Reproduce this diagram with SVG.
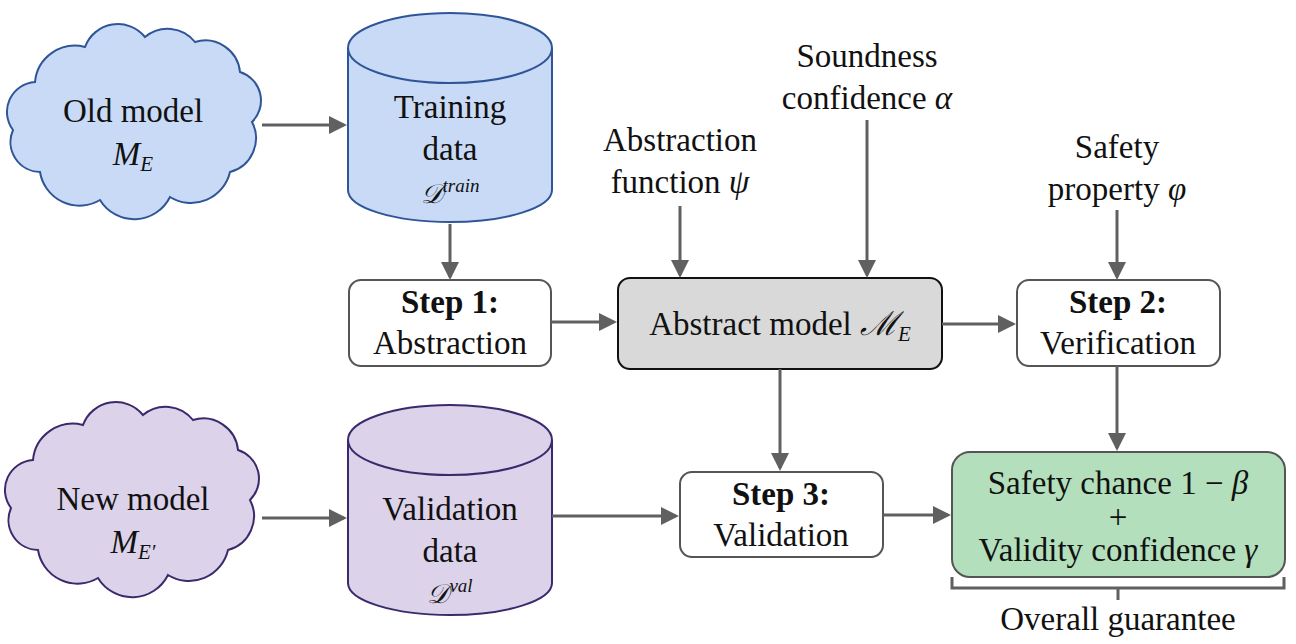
<svg xmlns="http://www.w3.org/2000/svg" width="1296" height="644" viewBox="0 0 1296 644">
<style>
text{font-family:"Liberation Serif","DejaVu Serif",serif;font-size:33px;fill:#111;text-anchor:middle}
.m{font-style:italic}
.b{font-weight:bold}
.d{font-size:27px}
.box{fill:#fff;stroke:#555;stroke-width:2}
.c line,.c path{stroke:#606060;stroke-width:3;fill:none}
.blue{fill:#c9daf6;stroke:#2f5597;stroke-width:2}
.purp{fill:#dcd3ea;stroke:#3b2a6b;stroke-width:2}
</style>
<defs>
<marker id="a" markerWidth="6" markerHeight="6" refX="5" refY="3" orient="auto" markerUnits="strokeWidth"><path d="M0,0L6,3L0,6z" fill="#606060"/></marker>
<path id="cloud" d="M30 60A40 40 0 0 1 80 25A35 35 0 0 1 140 15A35 35 0 0 1 190 20A35 35 0 0 1 235 50A30 30 0 0 1 247 100A35 35 0 0 1 225 150A40 40 0 0 1 165 175A40 40 0 0 1 95 178A40 40 0 0 1 35 150A30 30 0 0 1 8 108A30 30 0 0 1 30 60Z"/>
</defs>
<g id="old"><use href="#cloud" class="blue" transform="translate(5,22)"/><text x="133" y="122">Old model</text><text x="133" y="165" class="m">M<tspan font-size="21" dy="6">E</tspan></text></g>
<g id="train"><path class="blue" d="M348 48V190A102 32 0 0 0 552 190V48"/><ellipse class="blue" cx="450" cy="48" rx="102" ry="35"/><text x="450" y="118">Training</text><text x="450" y="160">data</text><text x="450" y="203" class="m d">𝒟<tspan font-size="19" dy="-11">train</tspan></text></g>
<g id="new"><use href="#cloud" class="purp" transform="translate(3,400)"/><text x="133" y="510">New model</text><text x="133" y="553" class="m">M<tspan font-size="21" dy="6">E′</tspan></text></g>
<g id="val"><path class="purp" d="M348 440V583A102 32 0 0 0 552 583V440"/><ellipse class="purp" cx="450" cy="440" rx="102" ry="35"/><text x="450" y="520">Validation</text><text x="450" y="562">data</text><text x="450" y="603" class="m d">𝒟<tspan font-size="19" dy="-11">val</tspan></text></g>
<g id="step1"><rect class="box" x="349" y="280" width="202" height="86" rx="12"/><text x="450" y="313" class="b">Step 1:</text><text x="450" y="354">Abstraction</text></g>
<g id="abs"><rect x="618" y="278" width="324" height="91" rx="12" fill="#d9d9d9" stroke="#111" stroke-width="2"/><text x="780" y="335">Abstract model <tspan class="m">ℳ<tspan font-size="21" dy="6">E</tspan></tspan></text></g>
<g id="step2"><rect class="box" x="1017" y="280" width="203" height="86" rx="12"/><text x="1118" y="313" class="b">Step 2:</text><text x="1118" y="354">Verification</text></g>
<g id="step3"><rect class="box" x="680" y="472" width="203" height="85" rx="12"/><text x="781" y="505" class="b">Step 3:</text><text x="781" y="546">Validation</text></g>
<g id="guar"><rect x="952" y="452" width="333" height="125" rx="18" fill="#b3dfbc" stroke="#555" stroke-width="2"/><text x="1118" y="494">Safety chance 1 − <tspan class="m">β</tspan></text><text x="1118" y="528">+</text><text x="1118" y="561">Validity confidence <tspan class="m">γ</tspan></text></g>
<g id="labels"><text x="680" y="151">Abstraction</text><text x="680" y="193">function <tspan class="m">ψ</tspan></text><text x="867" y="67">Soundness</text><text x="867" y="109">confidence <tspan class="m">α</tspan></text><text x="1117" y="158">Safety</text><text x="1117" y="200">property <tspan class="m">φ</tspan></text><text x="1118" y="630">Overall guarantee</text></g>
<g class="c">
<line x1="262" y1="125" x2="344" y2="125" marker-end="url(#a)"/>
<line x1="450" y1="224" x2="450" y2="277" marker-end="url(#a)"/>
<line x1="551" y1="322" x2="614" y2="322" marker-end="url(#a)"/>
<line x1="942" y1="324" x2="1013" y2="324" marker-end="url(#a)"/>
<line x1="680" y1="206" x2="680" y2="275" marker-end="url(#a)"/>
<line x1="867" y1="120" x2="867" y2="275" marker-end="url(#a)"/>
<line x1="1117" y1="210" x2="1117" y2="277" marker-end="url(#a)"/>
<line x1="780" y1="369" x2="780" y2="468" marker-end="url(#a)"/>
<line x1="1117" y1="366" x2="1117" y2="448" marker-end="url(#a)"/>
<line x1="262" y1="518" x2="344" y2="518" marker-end="url(#a)"/>
<line x1="552" y1="516" x2="676" y2="516" marker-end="url(#a)"/>
<line x1="883" y1="515" x2="948" y2="515" marker-end="url(#a)"/>
<path d="M952 577V588H1284V577M1118 588V600"/>
</g>
</svg>
